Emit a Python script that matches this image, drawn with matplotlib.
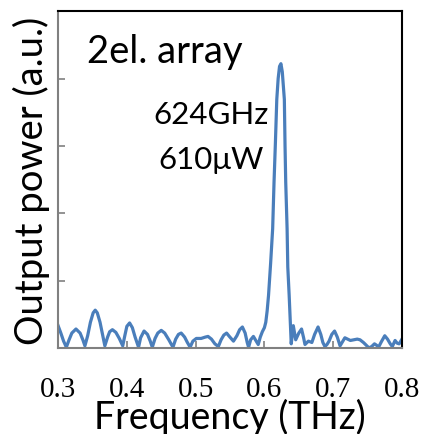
import matplotlib
matplotlib.use("Agg")
import matplotlib.pyplot as plt

# spectrum (THz, a.u.)
freq = [0.300, 0.304, 0.308, 0.312, 0.316, 0.320, 0.326, 0.332, 0.336, 0.339,
        0.343, 0.347, 0.351, 0.354, 0.357, 0.361, 0.365, 0.368, 0.372, 0.375,
        0.379, 0.384, 0.389, 0.394, 0.397, 0.400, 0.404, 0.408, 0.412, 0.417,
        0.420, 0.425, 0.430, 0.434, 0.437, 0.441, 0.445, 0.450, 0.455, 0.461,
        0.467, 0.471, 0.475, 0.479, 0.484, 0.488, 0.492, 0.496, 0.501, 0.508,
        0.514, 0.518, 0.523, 0.528, 0.533, 0.537, 0.541, 0.545, 0.549, 0.555,
        0.560, 0.564, 0.568, 0.572, 0.575, 0.577, 0.580, 0.584, 0.588, 0.591,
        0.594, 0.597, 0.600, 0.602, 0.604, 0.606, 0.609, 0.612, 0.614, 0.616,
        0.618, 0.620, 0.622, 0.624, 0.626, 0.629, 0.630, 0.631, 0.633, 0.634,
        0.636, 0.638, 0.639, 0.642, 0.6455, 0.650, 0.654, 0.657, 0.659, 0.664,
        0.669, 0.673, 0.678, 0.682, 0.685, 0.688, 0.691, 0.694, 0.698, 0.702,
        0.706, 0.710, 0.714, 0.717, 0.721, 0.725, 0.730, 0.735, 0.739, 0.744,
        0.749, 0.752, 0.756, 0.760, 0.763, 0.766, 0.770, 0.775, 0.779, 0.783,
        0.786, 0.790, 0.793, 0.796, 0.800]
power = [0.33, 0.22, 0.10, 0.01, 0.12, 0.22, 0.28, 0.22, 0.12, 0.03,
         0.18, 0.38, 0.52, 0.56, 0.52, 0.38, 0.18, 0.03, 0.16, 0.24,
         0.27, 0.23, 0.14, 0.03, 0.18, 0.32, 0.37, 0.30, 0.16, 0.01,
         0.15, 0.25, 0.20, 0.10, 0.01, 0.14, 0.22, 0.26, 0.22, 0.12,
         0.01, 0.13, 0.20, 0.22, 0.16, 0.08, 0.01, 0.10, 0.14, 0.14,
         0.16, 0.17, 0.13, 0.06, 0.02, 0.12, 0.19, 0.22, 0.17, 0.10,
         0.18, 0.27, 0.31, 0.22, 0.08, 0.01, 0.12, 0.17, 0.10, 0.05,
         0.16, 0.24, 0.30, 0.38, 0.55, 0.78, 1.25, 1.77, 2.46, 3.05,
         3.69, 4.00, 4.18, 4.22, 4.10, 3.69, 3.00, 2.46, 1.77, 1.20,
         0.78, 0.30, 0.06, 0.33, 0.12, 0.22, 0.28, 0.15, 0.05, 0.10,
         0.08, 0.20, 0.31, 0.20, 0.08, 0.02, 0.05, 0.10, 0.20, 0.25,
         0.16, 0.03, 0.10, 0.15, 0.13, 0.11, 0.12, 0.13, 0.12, 0.08,
         0.03, 0.00, 0.02, 0.06, 0.04, 0.01, 0.09, 0.18, 0.13, 0.06,
         0.02, 0.11, 0.07, 0.06, 0.13]

xticks = [0.3, 0.4, 0.5, 0.6, 0.7, 0.8]
xticklabels = ["0.3", "0.4", "0.5", "0.6", "0.7", "0.8"]
yticks = [0, 1, 2, 3, 4]

fig = plt.figure(figsize=(4.24, 4.35), dpi=100)
ax = fig.add_axes([0.137, 0.198, 0.811, 0.774])

ax.plot(freq, power, color="#4a7ebb", lw=2.3)

ax.set_xlim(0.3, 0.8)
ax.set_ylim(0, 5)
ax.set_xticks(xticks)
ax.set_xticklabels(xticklabels, fontfamily="Liberation Serif", fontsize=21)
ax.set_yticks(yticks)
ax.set_yticklabels([])
ax.tick_params(direction="in", length=5, width=1.2, color="#808080", pad=20)

for side in ["left", "bottom"]:
    ax.spines[side].set_color("#808080")
    ax.spines[side].set_linewidth(1.5)
for side in ["top", "right"]:
    ax.spines[side].set_color("black")
    ax.spines[side].set_linewidth(1.5)

ax.set_xlabel("Frequency (THz)", fontfamily="Lato", fontsize=27, labelpad=-3)
ax.set_ylabel("Output power (a.u.)", fontfamily="Lato", fontsize=27.5, labelpad=-14)

ax.text(0.342, 4.24, "2el. array", fontfamily="Lato", fontsize=27.5, ha="left", va="baseline")
ax.text(0.523, 3.34, "624GHz", fontfamily="Lato", fontsize=22.5, ha="center", va="baseline")
ax.text(0.5225, 2.67, "610\u03bcW", fontfamily="Lato", fontsize=22.5, ha="center", va="baseline")

fig.savefig("out.png", dpi=100)
